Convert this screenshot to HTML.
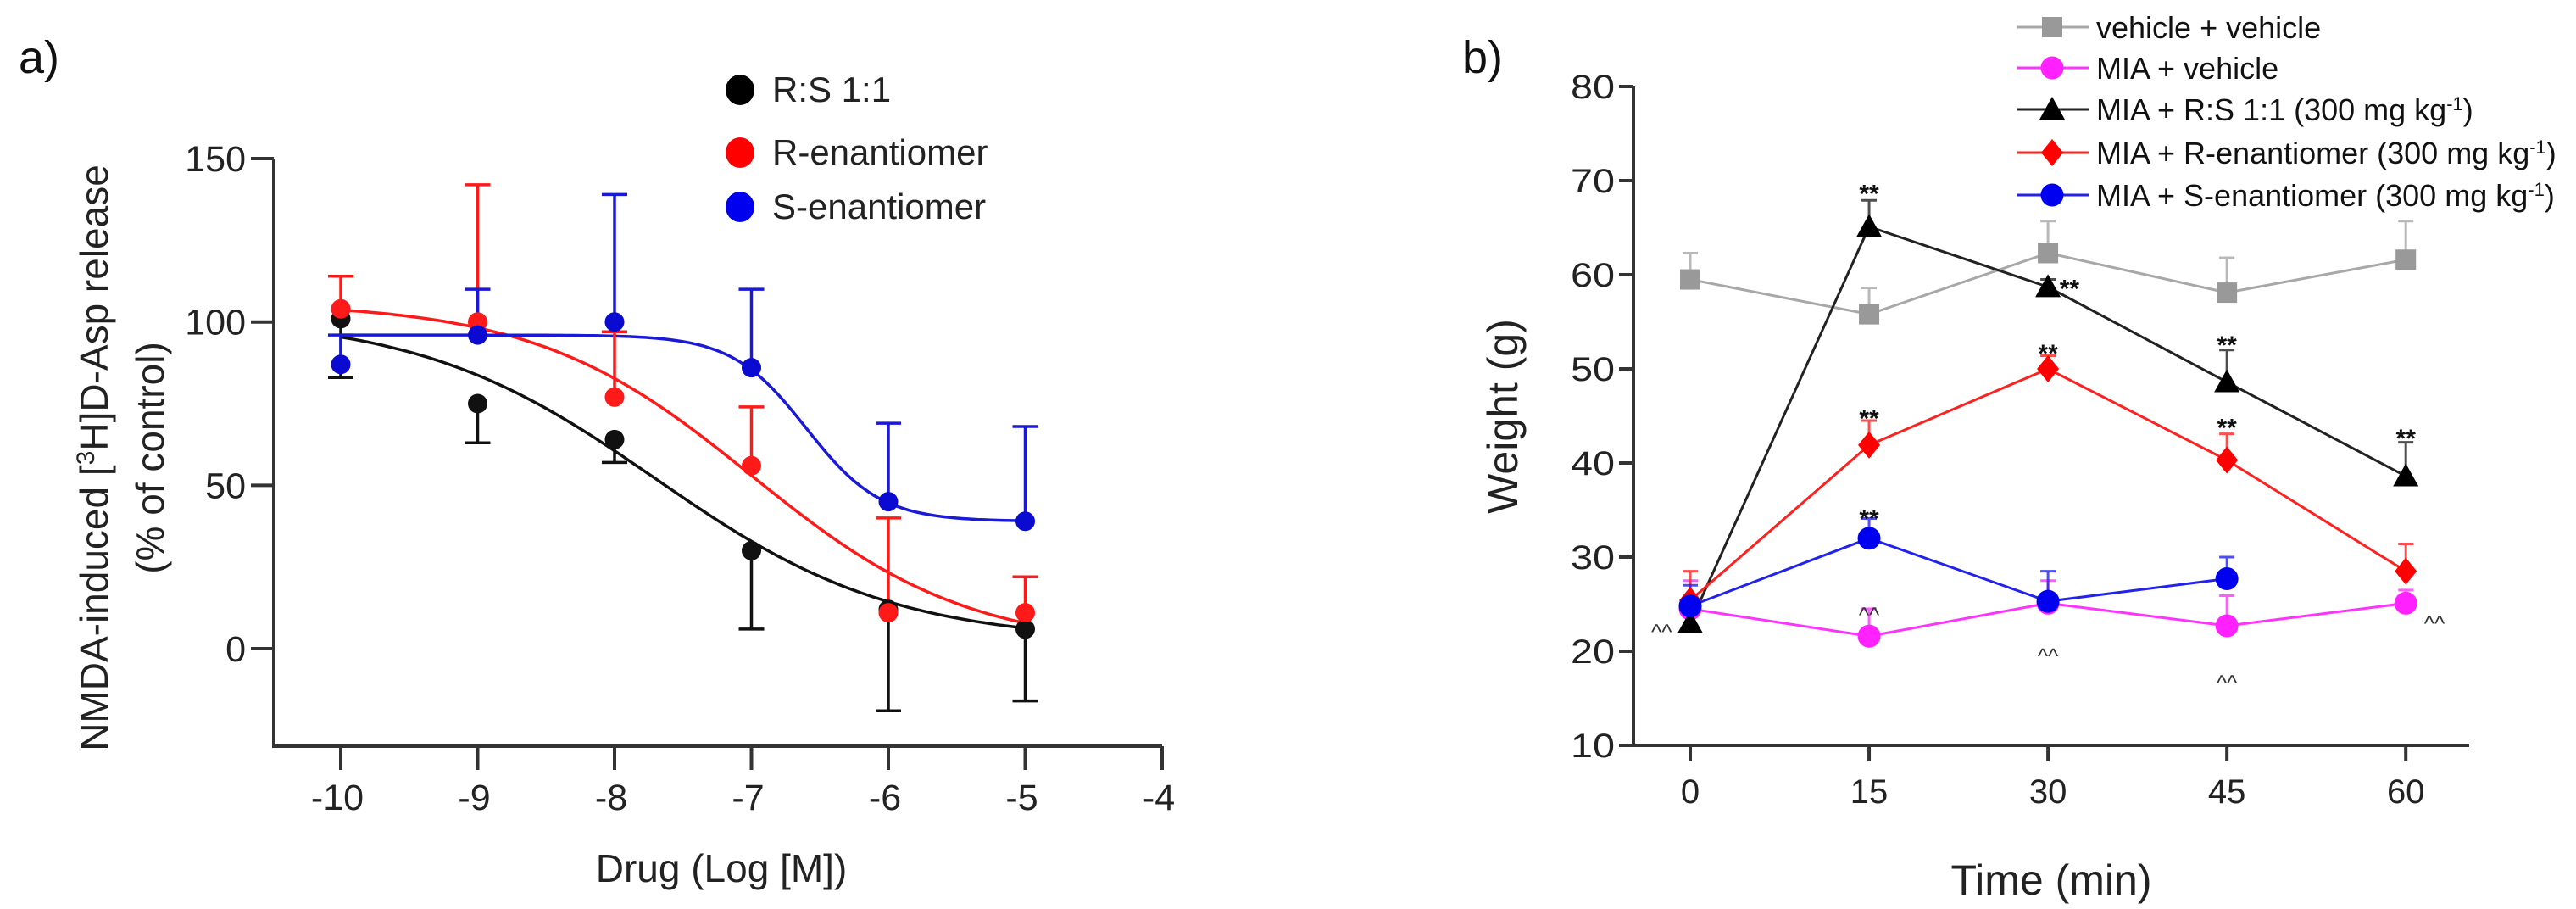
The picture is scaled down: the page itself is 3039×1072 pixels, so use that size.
<!DOCTYPE html>
<html><head><meta charset="utf-8"><style>
html,body{margin:0;padding:0;background:#fff;}
svg{display:block;font-family:"Liberation Sans",Arial,sans-serif;}
</style></head><body>
<svg id="fig" width="3039" height="1072" viewBox="0 0 3039 1072" xmlns="http://www.w3.org/2000/svg">
<g id="pa"></g>
<g id="pb"></g>
</svg>
<script>
// ---------- Panel a data ----------
const aX = [-10,-9,-8,-7,-6,-5];
const aRS = [101,75,64,30,12,6];
const aRSlow = [83,63,57,6,-19,-16];
const aR = [104,100,77,56,11,11];
const aRup = [114,142,97,74,40,22];
const aS = [87,96,100,86,45,39];
const aSup = [96,110,139,110,69,68];
// fit params: top,bottom,logIC50,hill
const fitRS = [102,2,-7.7,0.5];
const fitR = [106,0,-7.0,0.55];
const fitS = [96,39,-6.6,1.6];
const aYTicks = [0,50,100,150];
const aXTicks = [-10,-9,-8,-7,-6,-5,-4];
// ---------- Panel b data ----------
const bX = [0,15,30,45,60];
const bVeh = [59.5,55.8,62.3,58.1,61.6];
const bVehUp = [62.3,58.6,65.7,61.8,65.7];
const bMia = [24.5,21.6,25.1,22.7,25.1];
const bMiaUp = [27.5,24.5,27.5,25.9,26.5];
const bRS = [23,65.1,58.7,48.6,38.6];
const bRSUp = [24,67.9,59.5,52,42.2];
const bR = [25.4,41.9,50,40.3,28.5];
const bRUp = [28.5,44.5,51.4,43.1,31.4];
const bS = [24.8,32,25.3,27.7];
const bSUp = [27,34.1,28.5,30];
const bYTicks = [10,20,30,40,50,60,70,80];
const bXTicks = [0,15,30,45,60];
const starX = [15,30,45,60,15,30,45,15];
const starY = [68.8,58.7,52.7,42.8,44.9,51.8,43.9,34.3];
const starDX = [0,1.8,0,0,0,0,0,0];
const caretX = [0,15,30,45,60];
const caretY = [22.9,24.7,20.3,17.5,23.8];
const caretDX = [-2.4,0,0,0,2.4];

const NS="http://www.w3.org/2000/svg";
function mk(parent,tag,attrs,text){const e=document.createElementNS(NS,tag);for(const k in attrs)e.setAttribute(k,attrs[k]);if(text!==undefined)e.textContent=text;parent.appendChild(e);return e;}

// ---------- Panel a ----------
const pa=document.getElementById('pa');
const ax=v=>402+(v+10)*161.5;
const ay=v=>765-v*3.853;
let e;
e=mk(pa,'text',{x:22,y:86,'font-size':54,fill:'#111'},'a)');

e=mk(pa,'path',{d:`M323 ${ay(150)} V880 H${ax(-4)}`,stroke:'#333','stroke-width':4,fill:'none'});

aYTicks.forEach(t=>{
  e=mk(pa,'line',{x1:296,x2:323,y1:ay(t),y2:ay(t),stroke:'#333','stroke-width':4});
  
  e=mk(pa,'text',{x:290,y:ay(t)+15,'font-size':43,'text-anchor':'end',fill:'#222'},String(t));
  
});
aXTicks.forEach(t=>{
  e=mk(pa,'line',{x1:ax(t),x2:ax(t),y1:880,y2:908,stroke:'#333','stroke-width':4});
  
  e=mk(pa,'text',{x:ax(t)-4,y:955,'font-size':43,'text-anchor':'middle',fill:'#222'},String(t));
  
});
e=mk(pa,'text',{x:851,y:1040,'font-size':46,'text-anchor':'middle',fill:'#222'},'Drug (Log [M])');

const ytA=mk(pa,'text',{transform:'translate(127,540) rotate(-90)','font-size':46,'text-anchor':'middle',fill:'#222'});

ytA.innerHTML='NMDA-induced [<tspan baseline-shift="super" font-size="30">3</tspan>H]D-Asp release';
e=mk(pa,'text',{transform:'translate(193,540) rotate(-90)','font-size':46,'text-anchor':'middle',fill:'#222'},'(% of control)');


function curve(p){let d='';for(let i=0;i<=100;i++){const x=-10+5*i/100;const y=p[1]+(p[0]-p[1])/(1+Math.pow(10,(x-p[2])*p[3]));d+=(i?'L':'M')+ax(x).toFixed(1)+' '+ay(y).toFixed(1);}return d;}
const seriesA=[
 {n:'rs',c:'#111',v:aRS,err:aRSlow,fit:fitRS},
 {n:'r',c:'#ff1a1a',v:aR,err:aRup,fit:fitR},
 {n:'s',c:'#1a1ad6',v:aS,err:aSup,fit:fitS}];
seriesA.forEach(s=>{
  e=mk(pa,'path',{d:curve(s.fit),stroke:s.c,'stroke-width':3.5,fill:'none'});
  
});
seriesA.forEach(s=>{
  aX.forEach((x,i)=>{
    const X=ax(x);
    e=mk(pa,'path',{d:`M${X} ${ay(s.v[i])} V${ay(s.err[i])} M${X-15} ${ay(s.err[i])} H${X+15}`,stroke:s.c,'stroke-width':3.5,fill:'none'});
    
  });
});
seriesA.forEach(s=>{
  aX.forEach((x,i)=>{
    e=mk(pa,'circle',{cx:ax(x),cy:ay(s.v[i]),r:11.5,fill:s.c==='#1a1ad6'?'#0a0ad0':s.c});
    
  });
});
const legA=[['R:S 1:1','#000',106],['R-enantiomer','#ff0000',180],['S-enantiomer','#0000ee',244]];
legA.forEach(l=>{
  const g=mk(pa,'g',{});
  
  mk(g,'ellipse',{cx:873,cy:l[2],rx:17,ry:18,fill:l[1]});
  mk(g,'text',{x:911,y:l[2]+14,'font-size':42,fill:'#222'},l[0]);
});

// ---------- Panel b ----------
const pb=document.getElementById('pb');
const bx=v=>1994+v*14.07;
const by=v=>879-(v-10)*11.1;
e=mk(pb,'text',{x:1725,y:86,'font-size':54,fill:'#111'},'b)');

e=mk(pb,'path',{d:`M1927 ${by(80)} V879 H2913`,stroke:'#333','stroke-width':4,fill:'none'});

bYTicks.forEach(t=>{
  e=mk(pb,'line',{x1:1910,x2:1927,y1:by(t),y2:by(t),stroke:'#333','stroke-width':4});
  
  e=mk(pb,'text',{x:1905,y:by(t)+14,'font-size':40,'text-anchor':'end',fill:'#222',textLength:52,lengthAdjust:'spacingAndGlyphs'},String(t));
  
});
bXTicks.forEach(t=>{
  e=mk(pb,'line',{x1:bx(t),x2:bx(t),y1:879,y2:898,stroke:'#333','stroke-width':4});
  
  e=mk(pb,'text',{x:bx(t),y:947,'font-size':40,'text-anchor':'middle',fill:'#222'},String(t));
  
});
e=mk(pb,'text',{x:2420,y:1055,'font-size':50,'text-anchor':'middle',fill:'#222'},'Time (min)');

e=mk(pb,'text',{transform:'translate(1790,491) rotate(-90)','font-size':50,'text-anchor':'middle',fill:'#222'},'Weight (g)');


function marker(g,shape,x,y,c){
  if(shape==='sq')return mk(g,'rect',{x:x-12,y:y-12,width:24,height:24,fill:c});
  if(shape==='ci')return mk(g,'circle',{cx:x,cy:y,r:13.5,fill:c});
  if(shape==='tr')return mk(g,'path',{d:`M${x} ${y-15} L${x+15} ${y+12} L${x-15} ${y+12}Z`,fill:c});
  if(shape==='di')return mk(g,'path',{d:`M${x} ${y-16} L${x+13} ${y} L${x} ${y+16} L${x-13} ${y}Z`,fill:c});
}
const seriesB=[
 {n:'vehicle-vehicle',c:'#999',lc:'#a8a8a8',sh:'sq',v:bVeh,up:bVehUp,lab:'vehicle + vehicle'},
 {n:'mia-vehicle',c:'#ff22ff',lc:'#ff33ff',sh:'ci',v:bMia,up:bMiaUp,lab:'MIA + vehicle'},
 {n:'mia-rs',c:'#000',lc:'#222',sh:'tr',v:bRS,up:bRSUp,lab:'MIA + R:S 1:1 (300 mg kg'},
 {n:'mia-r',c:'#ff0000',lc:'#ff2020',sh:'di',v:bR,up:bRUp,lab:'MIA + R-enantiomer (300 mg kg'},
 {n:'mia-s',c:'#0000f0',lc:'#2222ee',sh:'ci',v:bS,up:bSUp,lab:'MIA + S-enantiomer (300 mg kg'}];
seriesB.forEach(s=>{
  s.v.forEach((v,i)=>{
    const X=bx(bX[i]);
    e=mk(pb,'path',{d:`M${X} ${by(v)} V${by(s.up[i])} M${X-9} ${by(s.up[i])} H${X+9}`,stroke:s.lc,'stroke-width':3,fill:'none','opacity':0.8});
    
  });
});
seriesB.forEach(s=>{
  const d=s.v.map((v,i)=>(i?'L':'M')+bx(bX[i])+' '+by(v)).join(' ');
  e=mk(pb,'path',{d:d,stroke:s.lc,'stroke-width':3,fill:'none'});
  
  s.v.forEach((v,i)=>{
    e=marker(pb,s.sh,bx(bX[i]),by(v),s.c);
    
  });
});
starX.forEach((x,i)=>{
  e=mk(pb,'text',{x:bx(x+starDX[i]),y:by(starY[i])+12,'font-size':30,'font-weight':'bold','text-anchor':'middle',fill:'#111'},'**');
  
});
caretX.forEach((x,i)=>{
  e=mk(pb,'text',{x:bx(x+caretDX[i]),y:by(caretY[i])+18,'font-size':26,'text-anchor':'middle',fill:'#333'},'^^');
  
});
const legY=[32,80,129,180,230];
seriesB.forEach((s,i)=>{
  const g=mk(pb,'g',{});
  
  mk(g,'line',{x1:2380,x2:2464,y1:legY[i],y2:legY[i],stroke:s.lc,'stroke-width':3});
  marker(g,s.sh,2421,legY[i],s.c);
  const t=mk(g,'text',{x:2473,y:legY[i]+13,'font-size':36,fill:'#111'});
  t.textContent=s.lab;
  if(i>=2){mk(t,'tspan',{'baseline-shift':'super','font-size':22},'-1');mk(t,'tspan',{},')');}
});
</script>
</body></html>
